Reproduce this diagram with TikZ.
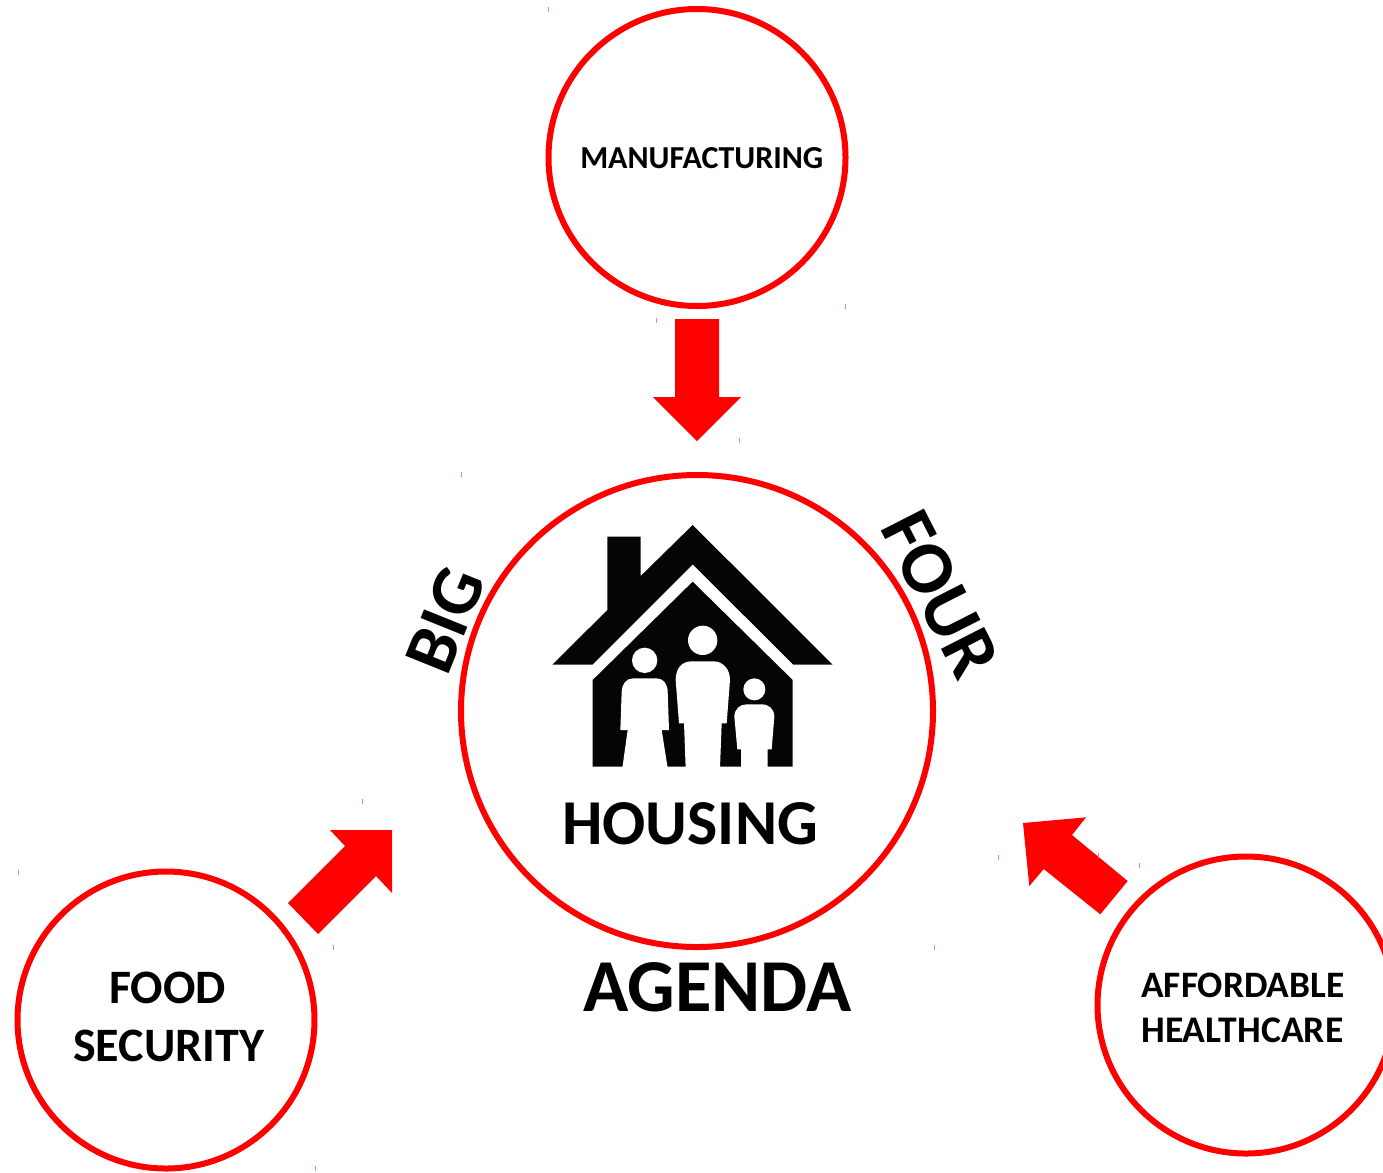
\documentclass[tikz,border=0pt]{standalone}
\usepackage{fontspec}
\setmainfont{Carlito}[BoldFont={Carlito Bold}]
\definecolor{bigred}{RGB}{255,0,0}
\definecolor{ink}{RGB}{5,5,8}
\definecolor{speck}{RGB}{255,130,130}
\tikzset{
  ring/.style={circle,draw=bigred,line width=4.5pt,fill=white,inner sep=0pt,minimum size=#1},
  lbl/.style={inner sep=0pt,anchor=base west,font=\bfseries,text=black},
  blockarrow/.style={fill=bigred,draw=none},
  tick/.style={draw=speck,line width=0.75pt}
}
\newcommand{\fs}[1]{\fontsize{#1}{#1}\selectfont}
\begin{document}
\begin{tikzpicture}[x=0.75pt,y=-0.75pt]
\useasboundingbox (0,0) rectangle (1383,1172);
\clip (0,0) rectangle (1383,1172);
\node[ring=297*0.75pt] (manu) at (697,157.5) {};
\node[ring=472*0.75pt] (hub) at (697,711) {};
\node[ring=297*0.75pt] (food) at (166,1020) {};
\node[ring=297*0.75pt] (care) at (1246,1005) {};
% block arrows
\path[blockarrow] (675,319)--(719,319)--(719,397)--(741,397)--(697,441)--(653,397)--(675,397)--cycle;
\path[blockarrow] (392,830)--(392,893)--(376,876)--(318,934)--(288,903)--(345,846)--(330,830)--cycle;
\path[blockarrow] (1023,823)--(1086,817.3)--(1072,835)--(1127.7,881)--(1100.3,914.3)--(1043.7,869)--(1029.3,886)--cycle;
% house
\begin{scope}[shift={(530,510)},x=0.25pt,y=-0.25pt]
\fill[ink] (488,45)--(908,464)--(790,464)--(488,163)--(187,464)--(67,464)--(232,300)--(232,80)--(332,80)--(332,198)--cycle;
\fill[ink] (488,215)--(788,510)--(788,770)--(188,770)--(188,510)--cycle;
\fill[white] (344,451) circle (38);
\fill[white] (518,391) circle (44);
\fill[white] (673,538) circle (33);
\fill[white] (271,660)--(275,545) .. controls (276,520) and (290,505) .. (310,505)--(380,505) .. controls (400,505) and (413,522) .. (413,545)--(417,660)--(395,660)--(413,774)--(277,774)--(293,660)--cycle;
\fill[white] (447,640)--(437,510) .. controls (437,475) and (455,454) .. (485,454)--(550,454) .. controls (580,454) and (600,478) .. (600,510)--(590,640)--(575,640)--(570,774)--(467,774)--(462,640)--cycle;
\fill[white] (622,718)--(613,620) .. controls (613,597) and (630,583) .. (650,583)--(695,583) .. controls (717,583) and (733,597) .. (733,620)--(725,718)--(713,718)--(713,774)--(633,774)--(633,718)--cycle;
\end{scope}
% labels
\node[lbl] (tmanu) at (580,168) {\fs{24}MANUFACTURING};
\node[lbl] (thouse) at (562,844) {\fs{48}HOUSING};
\node[lbl] (tagenda) at (583,1011) {\fs{56}AGENDA};
\node[lbl] (tfood) at (109,1003) {\fs{36}FOOD};
\node[lbl] (tsec) at (73,1061) {\fs{36}SECURITY};
\node[lbl] (taff) at (1141,997) {\fs{28}AFFORDABLE};
\node[lbl] (theal) at (1141,1042) {\fs{28.2}HEALTHCARE};
\node[lbl,rotate=68] (tbig) at (447,678) {\fs{54}BIG};
\node[lbl,rotate=-63] (tfour) at (879,527) {\fs{56}FOUR};
% specks
\foreach \x/\y in {548/9,845/306,656/320,739/440,461/474,362/801,998/857,1139/865,934/947,333/947,18/872,315/1168,1098/855}
  \draw[tick] (\x,\y-2.5)--(\x,\y+2.5);
\end{tikzpicture}
\end{document}
